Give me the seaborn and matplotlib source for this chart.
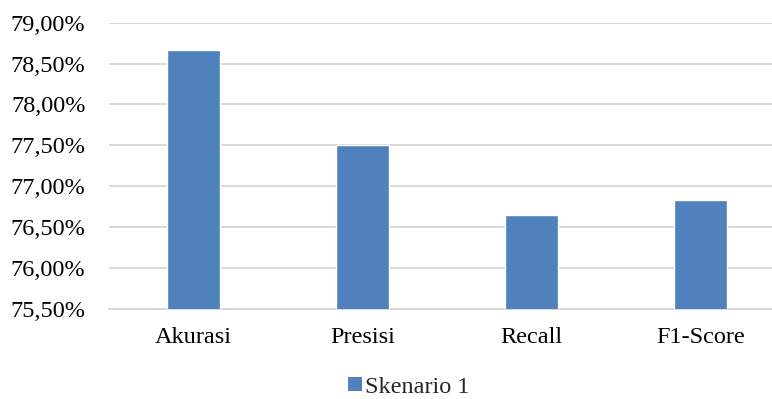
import matplotlib
matplotlib.use("Agg")
import matplotlib.pyplot as plt
import matplotlib.ticker as mticker
from matplotlib.patches import Patch
import seaborn as sns
import pandas as pd

categories = ["Akurasi", "Presisi", "Recall", "F1-Score"]
skenario_1 = [78.67, 77.50, 76.65, 76.83]
series_name = "Skenario 1"
y_ticks = [75.5, 76.0, 76.5, 77.0, 77.5, 78.0, 78.5, 79.0]

df = pd.DataFrame({"Metrik": categories, "Nilai": skenario_1})

sns.set_theme(style="white")
plt.rcParams["font.family"] = ["Liberation Serif", "DejaVu Serif"]

bar_color = "#4F81BD"
grid_color = "#D6D6D6"

fig = plt.figure(figsize=(7.72, 3.99), dpi=100)
ax = fig.add_axes([0.1412, 0.2256, 0.8756, 0.7175])

sns.barplot(data=df, x="Metrik", y="Nilai", color=bar_color, width=0.313,
            saturation=1, ax=ax, zorder=3)

ax.set_ylim(75.5, 79.0)
ax.set_yticks(y_ticks)
ax.yaxis.set_major_formatter(
    mticker.FuncFormatter(lambda v, _: f"{v:.2f}".replace(".", ",") + "%"))
ax.set_xlim(-0.5, len(categories) - 0.5)

ax.grid(axis="y", color=grid_color, linewidth=1.3, zorder=0)
ax.set_axisbelow(True)
for side in ["top", "right", "left"]:
    ax.spines[side].set_visible(False)
ax.spines["bottom"].set_color(grid_color)
ax.spines["bottom"].set_linewidth(1.3)

ax.set_xlabel("")
ax.set_ylabel("")
ax.tick_params(axis="both", length=0, labelsize=17.5, colors="black")
ax.tick_params(axis="y", pad=17)
ax.tick_params(axis="x", pad=13)

handle = Patch(facecolor=bar_color, edgecolor="none")
fig.legend([handle], [series_name], loc="center", bbox_to_anchor=(0.53, 0.03),
           frameon=False, fontsize=17.5, handlelength=0.55, handleheight=0.55,
           handletextpad=0.15)

fig.savefig("out.png", dpi=100)
